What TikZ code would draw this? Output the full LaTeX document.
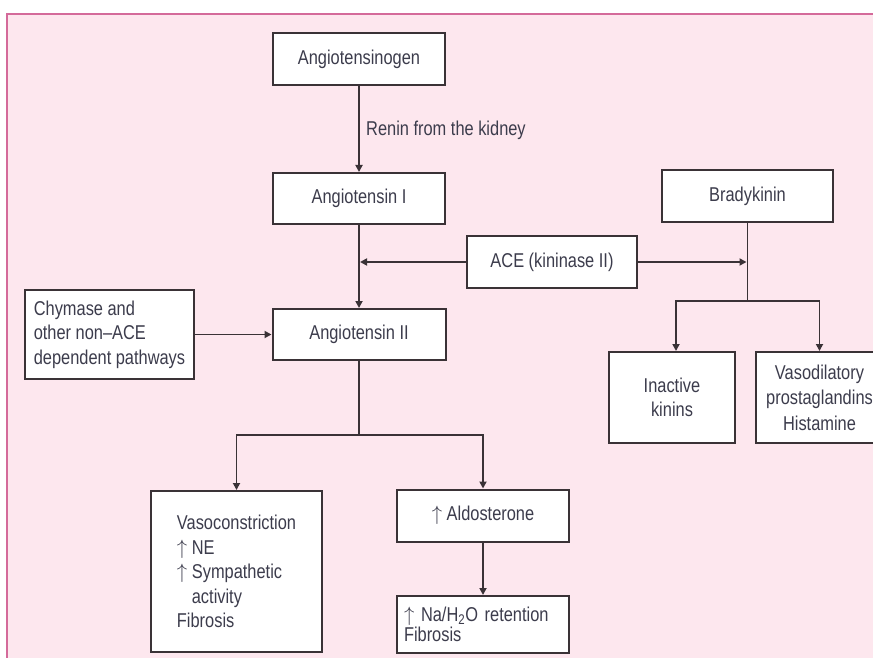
\documentclass[tikz,border=0pt]{standalone}
\usepackage{fontspec}
\setmainfont{Liberation Sans}[FakeStretch=0.82]
\usetikzlibrary{arrows.meta}
\definecolor{bgpink}{HTML}{FDE7EE}
\definecolor{framepink}{HTML}{D46A9A}
\definecolor{boxline}{HTML}{3A3236}
\definecolor{txt}{HTML}{3C3C4C}
\begin{document}
\begin{tikzpicture}[x=1pt,y=-1pt,
  box/.style={draw=boxline, line width=2pt, fill=white, inner sep=0pt, text=txt, font=\fontsize{20}{24.5}\selectfont},
  conn/.style={draw=boxline, line width=1.8pt},
  arr/.style={conn, -{Triangle[length=7pt,width=7pt]}}]
\useasboundingbox (0,0) rectangle (873,658);
\fill[white] (0,0) rectangle (873,658);
\fill[bgpink] (7,14) rectangle (880,670);
\draw[framepink, line width=2.5pt] (7,670) -- (7,14) -- (880,14);

\node[box, minimum width=172pt, minimum height=52pt] (ang0) at (359,59) {Angiotensinogen};
\node[box, minimum width=172pt, minimum height=51pt] (ang1) at (359,198.5) {Angiotensin I};
\node[box, minimum width=171pt, minimum height=52pt] (brady) at (747.5,196) {Bradykinin};
\node[box, minimum width=170pt, minimum height=52pt] (ace) at (552,262) {ACE (kininase II)};
\node[box, minimum width=169pt, minimum height=89pt, align=left] (chym) at (109.5,334.5) {Chymase and\\other non--ACE\\dependent pathways};
\node[box, minimum width=173pt, minimum height=51pt] (ang2) at (359,334.5) {Angiotensin II};
\node[box, minimum width=126pt, minimum height=91pt, align=center] (inact) at (672,397.5) {Inactive\\kinins};
\node[box, minimum width=127pt, minimum height=91pt, align=center, font=\fontsize{20}{25.5}\selectfont] (vasod) at (819.5,397.5) {Vasodilatory\\prostaglandins\\Histamine};
\node[box, minimum width=171pt, minimum height=161pt, align=left] (vaso) at (236.5,571.5) {Vasoconstriction\\$\uparrow$ NE\\$\uparrow$ Sympathetic\\\hphantom{$\uparrow$\ }activity\\Fibrosis};
\node[box, minimum width=172pt, minimum height=52pt] (aldo) at (483,515.5) {$\uparrow$ Aldosterone};
\node[box, text width=158pt, inner xsep=7pt, minimum height=57pt, align=left, font=\fontsize{20}{20}\selectfont] (na) at (483,624.5) {$\uparrow$ Na/H\textsubscript{2}O retention\\Fibrosis};

\node[anchor=west, inner sep=0pt, text=txt, font=\fontsize{20}{24}\selectfont] (renin) at (366,130) {Renin from the kidney};

\draw[arr] (ang0) -- (ang1);
\draw[arr] (ang1) -- (ang2);
\coordinate (aceL) at (ang1.south |- ace.west);
\coordinate (aceR) at (brady.south |- ace.east);
\draw[arr, shorten >=1pt] (ace.west) -- (aceL);
\draw[arr, shorten >=1pt] (ace.east) -- (aceR);
\draw[arr] (chym.east) -- (ang2.west);
\coordinate (j2) at (359,435);
\draw[conn] (ang2.south) -- (j2);
\draw[arr] (j2) -| (vaso.north);
\draw[arr] (j2) -| (aldo.north);
\draw[arr] (aldo) -- (na);
\coordinate (jb) at (747.5,301);
\draw[conn] (brady.south) -- (jb);
\draw[arr] (jb) -| ([xshift=4pt]inact.north);
\draw[arr] (jb) -| (vasod.north);
\end{tikzpicture}
\end{document}
